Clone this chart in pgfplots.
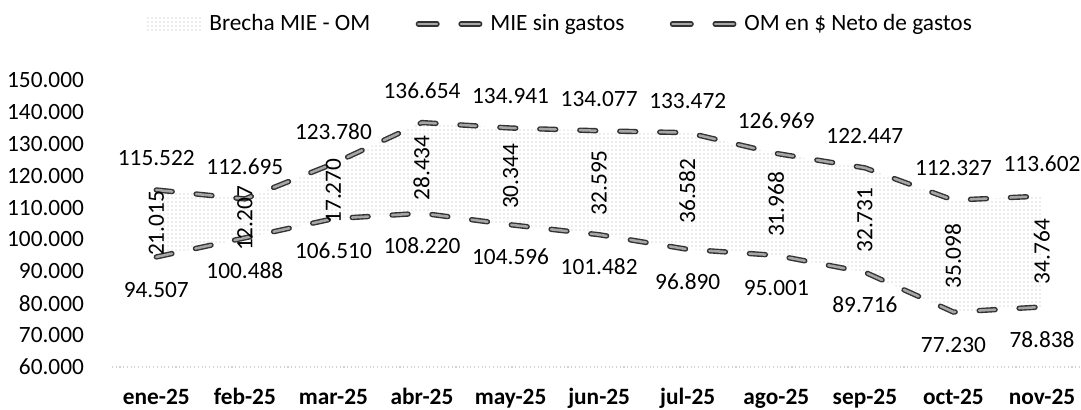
\documentclass[border=0pt]{standalone}
\usepackage{fontspec}
\setmainfont{Carlito}
\usepackage{pgfplots}
\pgfplotsset{compat=1.18}
\usepackage{pgfplotstable}
\usepgfplotslibrary{fillbetween}
\usetikzlibrary{patterns}

\pgfplotstableread{
x mie om gap
0 115522 94507 21015
1 112695 100488 12207
2 123780 106510 17270
3 136654 108220 28434
4 134941 104596 30344
5 134077 101482 32595
6 133472 96890 36582
7 126969 95001 31968
8 122447 89716 32731
9 112327 77230 35098
10 113602 78838 34764
}\data

\tikzset{
  dashline/.style={line width=1.9pt, draw=black!35, dash pattern=on 12pt off 18pt, line cap=round,
    preaction={draw=black!80, line width=4pt}},
  dashleg/.style={line width=1.9pt, draw=black!35, dash pattern=on 14pt off 18pt, line cap=round,
    preaction={draw=black!80, line width=4pt}},
  lbl/.style={anchor=center, text height=0.64em, text depth=0pt, inner sep=0pt, black},
}
\pgfplotsset{
  /pgf/number format/.cd, fixed, precision=0, 1000 sep={.}, assume math mode=true}
\pgfplotsset{
  dashlegend/.style={legend image code/.code={\draw[##1] (0pt,0pt) -- (46pt,0pt);}},
  arealegend/.style={legend image code/.code={\path[draw=none, pattern=dots, pattern color=gray!60] (0pt,-5pt) rectangle (42pt,5pt);}},
}

\begin{document}
\fontsize{17.5}{20}\selectfont
\begin{tikzpicture}
\begin{axis}[
  at={(84pt,32.25pt)}, anchor=south west,
  scale only axis, width=726.75pt, height=215.25pt,
  xmin=-0.5, xmax=10.44, ymin=60000, ymax=150000,
  xtick={0,...,10},
  xticklabels={ene-25,feb-25,mar-25,abr-25,may-25,jun-25,jul-25,ago-25,sep-25,oct-25,nov-25},
  ytick={60000,70000,...,150000},
  scaled y ticks=false,
  major tick length=0pt,
  axis x line*=bottom, axis y line*=left,
  x axis line style={draw=gray!35, dotted, line width=0.8pt},
  y axis line style={draw=none},
  xticklabel style={font=\bfseries, anchor=center, yshift=-22.5pt, text height=0.64em, text depth=0pt},
  yticklabel style={anchor=east, xshift=-15pt},
  clip=false,
  legend style={draw=none, fill=none, at={(0.03,1.195)}, anchor=west, legend columns=3,
    /tikz/every odd column/.append style={column sep=4pt},
    /tikz/every even column/.append style={column sep=32pt}},
  legend cell align=left,
]
\addlegendimage{arealegend}
\addlegendentry{Brecha MIE - OM}
\addlegendimage{dashleg, dashlegend}
\addlegendentry{MIE sin gastos}
\addlegendimage{dashleg, dashlegend}
\addlegendentry{OM en \$ Neto de gastos}

\addplot[draw=none, name path=mie, forget plot] table[x=x, y=mie]{\data};
\addplot[draw=none, name path=om, forget plot] table[x=x, y=om]{\data};
\addplot[pattern=dots, pattern color=gray!60, draw=none, forget plot] fill between[of=mie and om];

\addplot[dashline, mark=none, forget plot] table[x=x, y=mie]{\data};
\addplot[dashline, mark=none, forget plot] table[x=x, y=om]{\data};

\addplot[draw=none, mark=none, forget plot, nodes near coords, point meta=y,
  every node near coord/.append style={lbl, yshift=24pt}] table[x=x, y=mie]{\data};
\addplot[draw=none, mark=none, forget plot, nodes near coords, point meta=y,
  every node near coord/.append style={lbl, yshift=-24.5pt}] table[x=x, y=om]{\data};
\addplot[draw=none, mark=none, forget plot, nodes near coords, point meta=explicit,
  every node near coord/.append style={lbl, rotate=90}]
  table[x=x, y expr={(\thisrow{mie}+\thisrow{om})/2}, meta=gap]{\data};
\end{axis}
\pgfresetboundingbox
\path[use as bounding box] (0,0) rectangle (810.75pt,307.5pt);
\end{tikzpicture}
\end{document}
